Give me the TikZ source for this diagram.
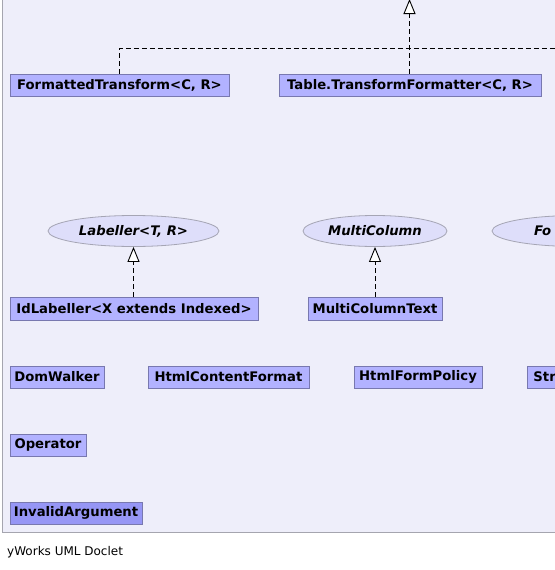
\documentclass[tikz,border=0pt]{standalone}
\usepackage{fontspec}
\setmainfont{DejaVu Sans}
\usetikzlibrary{arrows.meta}
\definecolor{panelfill}{RGB}{238,238,250}
\definecolor{paneldraw}{RGB}{165,165,175}
\definecolor{boxfill}{RGB}{178,178,255}
\definecolor{boxdraw}{RGB}{120,120,175}
\definecolor{errfill}{RGB}{150,150,245}
\definecolor{ellfill}{RGB}{222,222,250}
\definecolor{elldraw}{RGB}{165,165,180}
\tikzset{
  x=1pt, y=-1pt,
  classbox/.style={rectangle, draw=boxdraw, fill=boxfill, line width=0.9pt, minimum height=22pt, inner sep=0pt,
    font=\fontsize{13.2}{15}\selectfont\bfseries},
  errbox/.style={classbox, fill=errfill},
  ifc/.style={ellipse, draw=elldraw, fill=ellfill, line width=0.8pt, minimum height=31pt, inner sep=0pt,
    font=\fontsize{13.2}{15}\selectfont\bfseries\itshape},
  realize/.style={draw=black, line width=0.9pt, dash pattern=on 5pt off 3pt,
    -{Triangle[open, length=15pt, width=12pt, fill=white]}},
  realizeplain/.style={draw=black, line width=0.9pt, dash pattern=on 5pt off 3pt},
}
\usetikzlibrary{shapes.geometric}
\begin{document}
\begin{tikzpicture}
\useasboundingbox (0,0) rectangle (554,570);
\fill[white] (0,0) rectangle (554,570);
\draw[fill=panelfill, draw=paneldraw, line width=0.9pt] (2,-10) rectangle (600,532);

% top row
\node[classbox, minimum width=219pt] (ft) at (119.5,85) {FormattedTransform<C, R>};
\node[classbox, minimum width=262pt] (ttf) at (410,85) {Table.TransformFormatter<C, R>};
\coordinate (up) at (409.5,-1);
\coordinate (right) at (600,48);
\draw[realizeplain] (ft.north) |- (right);
\draw[realize] (ttf.north -| up) -- (up);

% interfaces
\node[ifc, minimum width=171pt] (lab) at (133.5,231) {Labeller<T, R>};
\node[ifc, minimum width=144pt] (mc) at (375,231) {MultiColumn};
\node[ifc, minimum width=170pt] (fo) at (577,231) {};
\node[anchor=west, inner sep=0pt, font=\fontsize{13.2}{15}\selectfont\bfseries\itshape] (fotext) at (534,231) {Fo};

\node[classbox, minimum width=248pt, minimum height=23pt] (idl) at (134,308.5) {IdLabeller<X extends Indexed>};
\node[classbox, minimum width=134pt, minimum height=23pt] (mct) at (375,308.5) {MultiColumnText};
\draw[realize] (idl.north -| lab.south) -- (lab.south);
\draw[realize] (mct.north) -- (mc.south);

% other classes
\node[classbox, minimum width=94pt] (dw) at (57,377) {DomWalker};
\node[classbox, minimum width=161pt] (hcf) at (228.5,377) {HtmlContentFormat};
\node[classbox, minimum width=128pt] (hfp) at (418,377) {HtmlFormPolicy};
\node[classbox, anchor=west, text width=80pt, align=left, inner xsep=6pt] (str) at (527,377) {Str};
\node[classbox, minimum width=76pt] (op) at (48,445) {Operator};
\node[errbox, minimum width=132pt] (ia) at (76,513) {InvalidArgument};

\node[anchor=west, inner sep=0pt, font=\fontsize{12}{14}\selectfont] (foot) at (7,552) {yWorks UML Doclet};
\end{tikzpicture}
\end{document}
